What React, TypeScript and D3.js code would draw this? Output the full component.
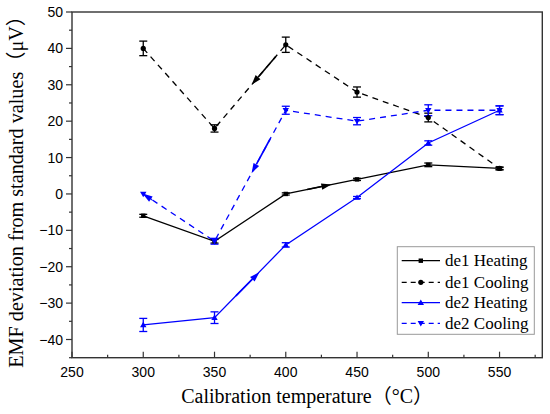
import React from "react";
import * as d3 from "d3";

const temps = [300, 350, 400, 450, 500, 550];
const de1Heating = [-6, -13, 0, 4, 8, 7];
const de1HeatingErr = [0.4, 0.5, 0.3, 0.3, 0.5, 0.3];
const de1Cooling = [40, 18, 41, 28, 21, 7];
const de1CoolingErr = [2, 1, 2.1, 1.4, 1.2, 0.4];
const de2Heating = [-36, -34, -14, -1, 14, 23];
const de2HeatingErr = [1.8, 1.6, 0.6, 0.3, 0.6, 1.2];
const de2Cooling = [0, -13, 23, 20, 23, 23];
const de2CoolingErr = [0, 0.8, 1.1, 1, 1.5, 1.2];

const xMajorTicks = [250, 300, 350, 400, 450, 500, 550];
const xMinorTicks = [275, 325, 375, 425, 475, 525, 575];
const yMajorTicks = [-40, -30, -20, -10, 0, 10, 20, 30, 40, 50];
const yMinorTicks = [-45, -35, -25, -15, -5, 5, 15, 25, 35, 45];

const seriesNames = ["de1 Heating", "de1 Cooling", "de2 Heating", "de2 Cooling"];

// direction arrows, in data units
const arrowFrom: [number, number][] = [[393, 37.8], [389, 15.1], [365, -28], [415, 1.2], [306, -1.6]];
const arrowTo: [number, number][] = [[376, 30], [376, 5.7], [381.5, -21.5], [432, 2.6], [299.5, 0.1]];
const arrowColor = ["#000", "#0000ff", "#0000ff", "#000", "#0000ff"];

const W = 550, H = 414;
const M = { left: 72, right: 542.3, top: 12, bottom: 357.7 };

const series = [
  { name: seriesNames[0], values: de1Heating, err: de1HeatingErr, color: "#000", dash: null, marker: "square" },
  { name: seriesNames[1], values: de1Cooling, err: de1CoolingErr, color: "#000", dash: "6,5", marker: "circle" },
  { name: seriesNames[2], values: de2Heating, err: de2HeatingErr, color: "#0000ff", dash: null, marker: "up" },
  { name: seriesNames[3], values: de2Cooling, err: de2CoolingErr, color: "#0000ff", dash: "6,5", marker: "down" },
];

function Marker({ type, x, y, color }: { type: string; x: number; y: number; color: string }) {
  if (type === "square") return <rect x={x - 2.2} y={y - 2.2} width={4.4} height={4.4} fill={color} />;
  if (type === "circle") return <circle cx={x} cy={y} r={2.6} fill={color} />;
  const s = 3.2;
  if (type === "up")
    return <path d={`M${x},${y - s}L${x + s},${y + s * 0.7}L${x - s},${y + s * 0.7}Z`} fill={color} />;
  return <path d={`M${x},${y + s}L${x + s},${y - s * 0.7}L${x - s},${y - s * 0.7}Z`} fill={color} />;
}

export default function App() {
  const x = d3.scaleLinear().domain([250, 580]).range([M.left, M.right]);
  const y = d3.scaleLinear().domain([-45, 50]).range([M.bottom, M.top]);
  const line = d3
    .line<number>()
    .x((_, i) => x(temps[i]))
    .y((d) => y(d));

  const serif = "'Liberation Serif', 'Times New Roman', serif";
  const cjk = "'Noto Sans CJK SC', sans-serif";
  const sans = "'Liberation Sans', Arial, sans-serif";

  const legX = 397.3, legY = 246.7, legW = 137, legH = 87.6;
  const rowY = [260.7, 282.3, 302.7, 323.3];

  return (
    <svg width={W} height={H} style={{ position: "absolute", left: 0, top: 0, background: "#fff" }}>
      <rect x={0} y={0} width={W} height={H} fill="#fff" />
      {/* series lines */}
      {series.map((s) => (
        <path
          key={s.name + "l"}
          d={line(s.values) || ""}
          fill="none"
          stroke={s.color}
          strokeWidth={1.3}
          strokeDasharray={s.dash || undefined}
        />
      ))}
      {/* error bars */}
      {series.map((s) =>
        s.values.map((v, i) => {
          const e = s.err[i];
          if (!e) return null;
          const cx = x(temps[i]);
          const y1 = y(v + e), y2 = y(v - e);
          return (
            <g key={s.name + "e" + i} stroke={s.color} strokeWidth={1.3}>
              <line x1={cx} x2={cx} y1={y1} y2={y2} />
              <line x1={cx - 4} x2={cx + 4} y1={y1} y2={y1} />
              <line x1={cx - 4} x2={cx + 4} y1={y2} y2={y2} />
            </g>
          );
        })
      )}
      {/* markers */}
      {series.map((s) =>
        s.values.map((v, i) => (
          <Marker key={s.name + "m" + i} type={s.marker} x={x(temps[i])} y={y(v)} color={s.color} />
        ))
      )}
      {/* arrows */}
      {arrowFrom.map((f, i) => {
        const x1 = x(f[0]), y1 = y(f[1]);
        const x2 = x(arrowTo[i][0]), y2 = y(arrowTo[i][1]);
        const ang = Math.atan2(y2 - y1, x2 - x1);
        const L = 10, hw = 3.2;
        const bx = x2 - L * Math.cos(ang), by = y2 - L * Math.sin(ang);
        const px = -Math.sin(ang) * hw, py = Math.cos(ang) * hw;
        return (
          <g key={"a" + i}>
            <line x1={x1} y1={y1} x2={bx} y2={by} stroke={arrowColor[i]} strokeWidth={1.6} />
            <path
              d={`M${x2},${y2}L${bx + px},${by + py}L${bx - px},${by - py}Z`}
              fill={arrowColor[i]}
            />
          </g>
        );
      })}
      {/* frame */}
      <rect
        x={M.left}
        y={M.top}
        width={M.right - M.left}
        height={M.bottom - M.top}
        fill="none"
        stroke="#333"
        strokeWidth={1.4}
      />
      {/* x ticks (inward) */}
      {xMajorTicks.map((t) => (
        <g key={"xt" + t}>
          <line x1={x(t)} x2={x(t)} y1={M.bottom} y2={M.bottom - 6} stroke="#333" strokeWidth={1.2} />
          <text x={x(t)} y={376.5} textAnchor="middle" fontFamily={sans} fontSize={14} fill="#000">
            {t}
          </text>
        </g>
      ))}
      {xMinorTicks.map((t) => (
        <line key={"xm" + t} x1={x(t)} x2={x(t)} y1={M.bottom} y2={M.bottom - 3} stroke="#333" strokeWidth={1.2} />
      ))}
      {/* y ticks (outward) */}
      {yMajorTicks.map((t) => (
        <g key={"yt" + t}>
          <line x1={M.left} x2={M.left - 6} y1={y(t)} y2={y(t)} stroke="#333" strokeWidth={1.2} />
          <text x={63} y={y(t) + 5} textAnchor="end" fontFamily={sans} fontSize={14} fill="#000">
            {t < 0 ? "\u2212" + Math.abs(t) : t}
          </text>
        </g>
      ))}
      {yMinorTicks.map((t) => (
        <line key={"ym" + t} x1={M.left} x2={M.left - 3} y1={y(t)} y2={y(t)} stroke="#333" strokeWidth={1.2} />
      ))}
      {/* axis titles */}
      <text x={(M.left + M.right) / 2} y={403} textAnchor="middle" fontFamily={serif} fontSize={20} fill="#000">
        <tspan>Calibration temperature</tspan>
        <tspan fontFamily={cjk}>（</tspan>
        <tspan>°C</tspan>
        <tspan fontFamily={cjk}>）</tspan>
      </text>
      <text
        transform={`translate(23,${(M.top + M.bottom) / 2 + 2}) rotate(-90)`}
        textAnchor="middle"
        fontFamily={serif}
        fontSize={20.2}
        fill="#000"
      >
        <tspan>EMF deviation from standard values</tspan>
        <tspan fontFamily={cjk}>（</tspan>
        <tspan>μV</tspan>
        <tspan fontFamily={cjk}>）</tspan>
      </text>
      {/* legend */}
      <rect x={legX} y={legY} width={legW} height={legH} fill="#fff" stroke="#999" strokeWidth={1} />
      {series.map((s, i) => (
        <g key={"lg" + i}>
          <line
            x1={401.7}
            x2={440}
            y1={rowY[i]}
            y2={rowY[i]}
            stroke={s.color}
            strokeWidth={1.3}
            strokeDasharray={s.dash ? "5,4" : undefined}
          />
          <Marker type={s.marker} x={420.8} y={rowY[i]} color={s.color} />
          <text x={445} y={rowY[i] + 5.5} fontFamily={serif} fontSize={17} fill="#000">
            {s.name}
          </text>
        </g>
      ))}
    </svg>
  );
}
